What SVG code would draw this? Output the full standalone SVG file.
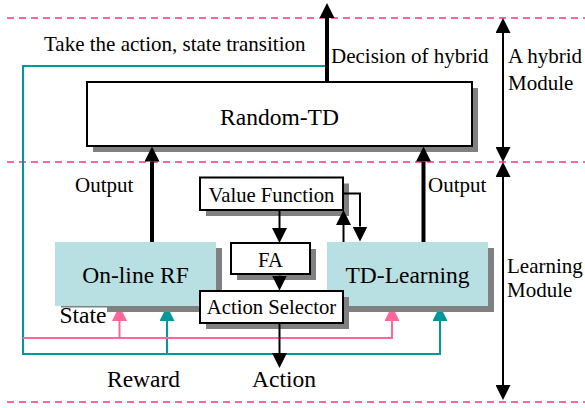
<svg xmlns="http://www.w3.org/2000/svg" width="585" height="408" viewBox="0 0 585 408">
<defs>
<marker id="ab" viewBox="0 0 15 15" refX="0" refY="7.5" markerWidth="15" markerHeight="15" markerUnits="userSpaceOnUse" orient="auto-start-reverse"><path d="M0,0 L15,7.5 L0,15 z" fill="#000"/></marker>
<marker id="at" viewBox="0 0 15 15" refX="0" refY="7.5" markerWidth="15" markerHeight="15" markerUnits="userSpaceOnUse" orient="auto"><path d="M0,0 L15,7.5 L0,15 z" fill="#009999"/></marker>
<marker id="ap" viewBox="0 0 15 15" refX="0" refY="7.5" markerWidth="15" markerHeight="15" markerUnits="userSpaceOnUse" orient="auto"><path d="M0,0 L15,7.5 L0,15 z" fill="#ff6699"/></marker>
</defs>
<rect width="585" height="408" fill="#fff"/>
<g id="separators" stroke="#ff6699" stroke-width="2" stroke-dasharray="7 5" fill="none">
<line x1="7" y1="18" x2="585" y2="18"/>
<line x1="7" y1="162" x2="585" y2="162"/>
<line x1="7" y1="402" x2="585" y2="402"/>
</g>
<g id="feedback" stroke-width="2" fill="none">
<polyline stroke="#009999" points="327,66 23,66 23,354 440,354 440,321" marker-end="url(#at)"/>
<line stroke="#009999" x1="167" y1="354" x2="167" y2="321" marker-end="url(#at)"/>
<polyline stroke="#ff6699" points="23,338 392,338 392,321" marker-end="url(#ap)"/>
<line stroke="#ff6699" x1="119.5" y1="338" x2="119.5" y2="321" marker-end="url(#ap)"/>
</g>
<g font-family="Liberation Serif" fill="#000">
<g id="random-td">
<rect fill="#808080" x="93" y="88" width="385" height="64"/>
<rect fill="#fff" stroke="#000" stroke-width="2" x="87" y="82" width="385" height="64"/>
<text font-size="23.5" x="279.5" y="124.5" text-anchor="middle">Random-TD</text>
</g>
<g id="online-rf">
<rect fill="#808080" x="61" y="248" width="161" height="64"/>
<rect fill="#b8dfe2" x="55" y="242" width="161" height="64"/>
<text font-size="23.5" x="135.5" y="283" text-anchor="middle">On-line RF</text>
</g>
<g id="td-learning">
<rect fill="#808080" x="333" y="248" width="161" height="64"/>
<rect fill="#b8dfe2" x="327" y="242" width="161" height="64"/>
<text font-size="23.5" x="407.5" y="283" text-anchor="middle">TD-Learning</text>
</g>
<g id="value-function">
<rect fill="#808080" x="206" y="183.5" width="143" height="32.5"/>
<rect fill="#fff" stroke="#000" stroke-width="2" x="200" y="177.5" width="143" height="32.5"/>
<text font-size="20.7" x="271.5" y="201.5" text-anchor="middle">Value Function</text>
</g>
<g id="fa">
<rect fill="#808080" x="237" y="249" width="79" height="31"/>
<rect fill="#fff" stroke="#000" stroke-width="2" x="231" y="243" width="79" height="31"/>
<text font-size="20.7" x="270.5" y="266.5" text-anchor="middle">FA</text>
</g>
<g id="action-selector">
<rect fill="#808080" x="206" y="297" width="143" height="32"/>
<rect fill="#fff" stroke="#000" stroke-width="2" x="200" y="291" width="143" height="32"/>
<text font-size="20.7" x="271.5" y="313.5" text-anchor="middle">Action Selector</text>
</g>
<g id="connectors" stroke="#000" fill="none">
<g stroke-width="4">
<line x1="327" y1="82" x2="327" y2="18" marker-end="url(#ab)"/>
<line x1="152" y1="242" x2="152" y2="161.5" marker-end="url(#ab)"/>
<line x1="423.5" y1="242" x2="423.5" y2="161.5" marker-end="url(#ab)"/>
</g>
<g stroke-width="2">
<line x1="279.5" y1="211" x2="279.5" y2="228" marker-end="url(#ab)"/>
<line x1="279.5" y1="274" x2="279.5" y2="275.5" marker-end="url(#ab)"/>
<line x1="279.5" y1="323" x2="279.5" y2="353" marker-end="url(#ab)"/>
<line x1="343.5" y1="242" x2="343.5" y2="225" marker-end="url(#ab)"/>
<polyline points="343,193.5 360,193.5 360,226.5" marker-end="url(#ab)"/>
<line x1="503" y1="33" x2="503" y2="147" marker-start="url(#ab)" marker-end="url(#ab)"/>
<line x1="503" y1="177" x2="503" y2="385" marker-start="url(#ab)" marker-end="url(#ab)"/>
</g>
</g>
<g id="labels" font-size="21">
<text x="44" y="51">Take the action, state transition</text>
<text x="331" y="63">Decision of hybrid</text>
<text x="508" y="63">A hybrid</text>
<text x="508" y="90">Module</text>
<text x="507" y="273">Learning</text>
<text x="507" y="296.5">Module</text>
<text x="75" y="192">Output</text>
<text x="428" y="192">Output</text>
<rect x="57" y="307.5" width="50" height="18" fill="#fff"/>
<text font-size="23.5" x="59.5" y="322.5">State</text>
<text font-size="23.5" x="107" y="386.5">Reward</text>
<text font-size="23.5" x="252" y="386.5">Action</text>
</g>
</g>
</svg>
